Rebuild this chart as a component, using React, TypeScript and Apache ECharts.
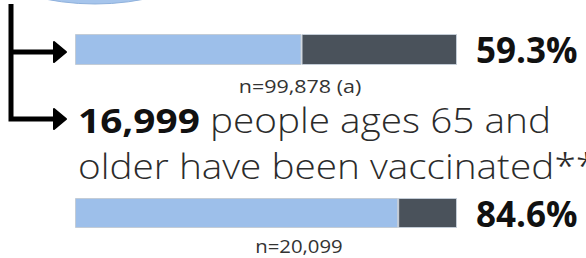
import React, { useEffect, useRef } from "react";
import * as echarts from "echarts";

const categories = ["All ages", "Ages 65+"];
const vaccinatedPct = [59.3, 84.6];
const sampleLabels = ["n=99,878 (a)", "n=20,099"];
const highlightCount = "16,999";
const headlineRest = " people ages 65 and";
const headlineLine2 = "older have been vaccinated**";

const LIGHT = "#9dbfea";
const DARK = "#4a525b";
const FONT = "'Open Sans', sans-serif";
const LIGHT_FONT = "'Open Sans Light', 'Open Sans', sans-serif";

export default function App() {
  const ref = useRef<HTMLDivElement>(null);
  useEffect(() => {
    if (!ref.current) return;
    const chart = echarts.init(ref.current, null, { renderer: "svg" });
    const grids = [
      { left: 75, width: 382, top: 34, height: 31 },
      { left: 75, width: 382, top: 198, height: 30 },
    ];
    const xAxis = grids.map((_, i) => ({
      type: "value",
      gridIndex: i,
      min: 0,
      max: 100,
      show: false,
    }));
    const yAxis = grids.map((_, i) => ({
      type: "category",
      gridIndex: i,
      data: [categories[i]],
      show: false,
    }));
    const series: any[] = [];
    categories.forEach((_, i) => {
      series.push({
        type: "bar",
        name: "vaccinated",
        xAxisIndex: i,
        yAxisIndex: i,
        stack: "s" + i,
        barWidth: "100%",
        data: [vaccinatedPct[i]],
        itemStyle: { color: LIGHT, borderColor: "#c3ccd6", borderWidth: 1 },
      });
      series.push({
        type: "bar",
        name: "remaining",
        xAxisIndex: i,
        yAxisIndex: i,
        stack: "s" + i,
        barWidth: "100%",
        data: [100 - vaccinatedPct[i]],
        itemStyle: { color: DARK, borderColor: "#c3ccd6", borderWidth: 1 },
        label: {
          show: true,
          position: "right",
          distance: 19,
          formatter: () => vaccinatedPct[i].toFixed(1) + "%",
          fontFamily: FONT,
          fontWeight: "bold",
          fontSize: 35,
          color: "#111",
        },
      });
    });

    const graphic: any[] = [
      {
        type: "circle",
        shape: { cx: 95, cy: -251, r: 255 },
        style: { fill: "#a6c5ec", stroke: "#8fb1dc", lineWidth: 1 },
      },
      {
        type: "polyline",
        shape: { points: [[11, 4], [11, 119], [54, 119]] },
        style: { stroke: "#000", lineWidth: 5, fill: null },
      },
      {
        type: "polyline",
        shape: { points: [[11, 52], [54, 52]] },
        style: { stroke: "#000", lineWidth: 5, fill: null },
      },
      {
        type: "polygon",
        shape: { points: [[54, 42], [66, 52], [54, 62]] },
        style: { fill: "#000", stroke: "#000", lineWidth: 2, lineJoin: "round" },
      },
      {
        type: "polygon",
        shape: { points: [[54, 109], [66, 119], [54, 129]] },
        style: { fill: "#000", stroke: "#000", lineWidth: 2, lineJoin: "round" },
      },
      {
        type: "text",
        x: 300,
        y: 86,
        scaleX: 1.13,
        style: {
          x: 0,
          y: 0,
          text: sampleLabels[0],
          font: `19px ${FONT}`,
          fill: "#333",
          textAlign: "center",
          textVerticalAlign: "middle",
        },
      },
      {
        type: "text",
        x: 299,
        y: 246,
        scaleX: 1.13,
        style: {
          x: 0,
          y: 0,
          text: sampleLabels[1],
          font: `18px ${FONT}`,
          fill: "#333",
          textAlign: "center",
          textVerticalAlign: "middle",
        },
      },
      {
        type: "text",
        x: 78,
        y: 120,
        scaleX: 1.14,
        style: {
          x: 0,
          y: 0,
          text: `{b|${highlightCount}}{l|${headlineRest}}`,
          textVerticalAlign: "middle",
          rich: {
            b: { fontFamily: FONT, fontWeight: "bold", fontSize: 34, fill: "#111" },
            l: { fontFamily: LIGHT_FONT, fontWeight: 300, fontSize: 34, fill: "#2b2b2b" },
          },
        },
      },
      {
        type: "text",
        x: 78,
        y: 166,
        scaleX: 1.14,
        style: {
          x: 0,
          y: 0,
          text: headlineLine2,
          font: `300 34px ${LIGHT_FONT}`,
          fill: "#2b2b2b",
          textVerticalAlign: "middle",
        },
      },
    ];

    chart.setOption({
      animation: false,
      grid: grids,
      xAxis,
      yAxis,
      series,
      graphic,
    });
    return () => chart.dispose();
  }, []);
  return (
    <div
      ref={ref}
      style={{ position: "fixed", left: 0, top: 0, width: 586, height: 258, background: "#fff" }}
    />
  );
}
